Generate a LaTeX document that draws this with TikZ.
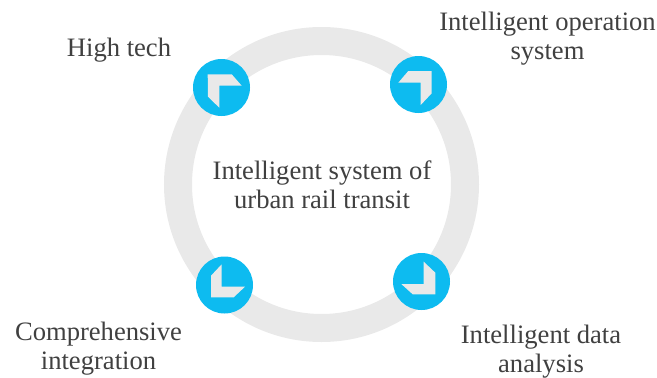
\documentclass[tikz,border=0pt]{standalone}
\usepackage{fontspec}
\setmainfont{Liberation Serif}
\usetikzlibrary{positioning}
\definecolor{ringgray}{HTML}{E9E9E9}
\definecolor{dotblue}{HTML}{0DBBF0}
\definecolor{labelgray}{HTML}{404040}
\tikzset{
    ringnode/.style = {circle, draw=ringgray, line width=28pt, minimum size=287pt, inner sep=0pt},
    dotnode/.style = {circle, fill=dotblue, minimum size=57pt, inner sep=0pt},
    icon/.style = {fill=ringgray},
    labelnode/.style = {align=center, text=labelgray, inner sep=0pt, font=\fontsize{26.6}{29}\selectfont}
}
\begin{document}
\begin{tikzpicture}[x=1pt,y=-1pt]
  \useasboundingbox (0,0) rectangle (657,378);
  \node[ringnode] (ring) at (321.5,184.5) {};
  \node[dotnode] (tl) at (221.5,87.5) {};
  \node[dotnode] (tr) at (418.5,84.5) {};
  \node[dotnode] (bl) at (224.5,285) {};
  \node[dotnode] (br) at (421.5,281.5) {};
  % arrows inside the dots
  \fill[icon] (207.7,74.3) -- (231.7,74.3) -- (241.7,85.7) -- (219.3,85.7) -- (219.3,107.7) -- (208,96.7) -- cycle;
  \fill[icon] (431.7,71) -- (408.3,71) -- (398.3,82.7) -- (420.7,82.7) -- (420.7,105) -- (431.7,93.3) -- cycle;
  \fill[icon] (211,297.3) -- (211,275.7) -- (221.7,264.3) -- (221.7,286.7) -- (245,286.7) -- (233.7,297.3) -- cycle;
  \fill[icon] (435.3,294.3) -- (412.7,294.3) -- (401.3,284) -- (423.7,284) -- (423.7,261.7) -- (435.3,272.7) -- cycle;
  \node[labelnode] (center) at (322,185) {Intelligent system of\\urban rail transit};
  \node[labelnode] (hightech) at (119,50) {High tech};
  \node[labelnode] (operation) at (547.5,38.5) {Intelligent operation\\system};
  \node[labelnode] (integration) at (98.5,349) {Comprehensive\\integration};
  \node[labelnode] (analysis) at (541,351.5) {Intelligent data\\analysis};
\end{tikzpicture}
\end{document}
